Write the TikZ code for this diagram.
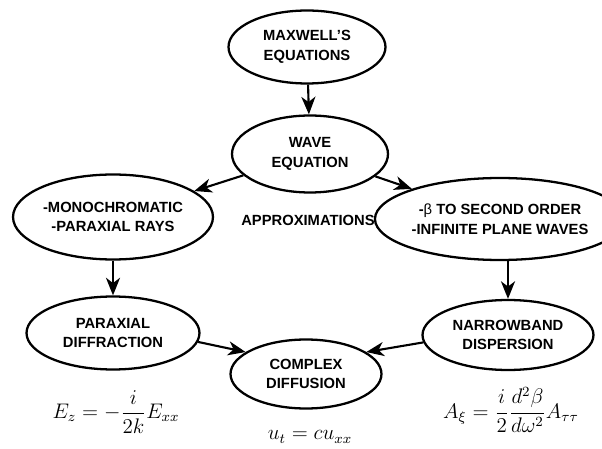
\documentclass[tikz,border=0pt]{standalone}
\usepackage{amsmath}
\usepackage{fontspec}
\setmainfont{Liberation Sans}
\usetikzlibrary{shapes.geometric, arrows.meta}

\begin{document}
\begin{tikzpicture}[
    x=0.02cm, y=-0.02cm,
    oval/.style={draw, ellipse, line width=1.3pt, inner sep=0pt, align=center,
      font=\fontsize{8.4}{11.2}\selectfont\bfseries},
    arr/.style={-{Stealth[length=10pt, width=8pt, inset=3pt]}, line width=1.2pt},
    eqn/.style={font=\fontsize{12}{14}\selectfont}
  ]
    \useasboundingbox (0,0) rectangle (602,449);

    %% ── top row ──
    \node[oval, minimum width=3.14cm, minimum height=1.46cm] (maxwell) at (307, 47) {MAXWELL'S\\EQUATIONS};
    \node[oval, minimum width=3.12cm, minimum height=1.54cm] (wave) at (310, 154) {WAVE\\EQUATION};

    %% ── approximations ──
    \node[oval, minimum width=4.0cm, minimum height=1.7cm] (mono) at (113, 217)
      {-MONOCHROMATIC\\-PARAXIAL RAYS};
    \node[oval, minimum width=3.9cm, minimum height=1.64cm] (beta) at (500, 219)
      {-{\mdseries β} TO SECOND ORDER\\-INFINITE PLANE WAVES};
    \node[font=\fontsize{8.4}{11.2}\selectfont\bfseries] (approx) at (308, 220) {APPROXIMATIONS};

    %% ── reduced equations ──
    \node[oval, minimum width=3.46cm, minimum height=1.46cm] (parax) at (113, 333) {PARAXIAL\\DIFFRACTION};
    \node[oval, minimum width=3.42cm, minimum height=1.40cm] (narrow) at (508, 335) {NARROWBAND\\DISPERSION};
    \node[oval, minimum width=3.02cm, minimum height=1.38cm] (complex) at (306, 374) {COMPLEX\\DIFFUSION};

    %% ── equations ──
    \node[eqn] (eqparax)   at (116, 412) {$E_z = -\dfrac{i}{2k}E_{xx}$};
    \node[eqn] (eqcomplex) at (310, 437) {$u_t = cu_{xx}$};
    \node[eqn] (eqnarrow)  at (511, 410) {$A_\xi = \dfrac{i}{2}\dfrac{d^2\beta}{d\omega^2}A_{\tau\tau}$};

    %% ═══════ ARROWS ═══════
    \draw[arr] (maxwell) -- (wave);
    \draw[arr] (wave) -- (mono);
    \draw[arr] (wave) -- (beta);
    \draw[arr] (mono) -- (parax);
    \draw[arr] (beta.south -| narrow.north) -- (narrow.north);
    \draw[arr] (parax.-6) -- (complex.160);
    \draw[arr] (narrow.185) -- (complex.20);

  \end{tikzpicture}
\end{document}
